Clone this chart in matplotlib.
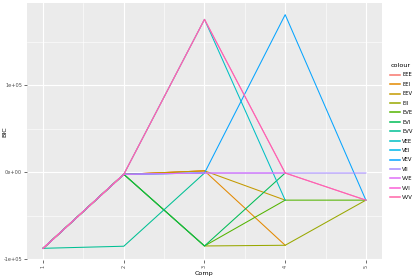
import numpy as np
import matplotlib.pyplot as plt

# BIC por numero de componentes
comp = [1, 2, 3, 4, 5]
nan = np.nan
models = ['EEE', 'EEI', 'EEV', 'EII', 'EVE', 'EVI', 'EVV',
          'VEE', 'VEI', 'VEV', 'VII', 'VVE', 'VVI', 'VVV']
bic = {
    'EEE': [-87400, -2300, 1700, nan, nan],
    'EEI': [-87400, -2300, 1700, -83900, nan],
    'EEV': [-87400, -2300, 1700, -32000, nan],
    'EII': [-87400, -2300, -84700, -83900, -32000],
    'EVE': [-87400, -2300, -84700, -32000, -32000],
    'EVI': [-87400, -2300, -84700, -800, nan],
    'EVV': [-87400, -85000, -800, nan, nan],
    'VEE': [-87400, -2300, 175900, -32000, nan],
    'VEI': [-87400, -2300, -800, nan, nan],
    'VEV': [-87400, -2300, -800, 181300, -32000],
    'VII': [-87400, -2300, -800, -800, -800],
    'VVE': [-87400, -2300, -800, -800, nan],
    'VVI': [-87400, -2300, 175900, -800, -32000],
    'VVV': [-87400, -2300, 175900, -800, -32000],
}
colores = ['#F8766D', '#E38900', '#C49A00', '#99A800', '#53B400', '#00BC56', '#00C094',
           '#00BFC4', '#00B6EB', '#06A4FF', '#A58AFF', '#DF70F8', '#FB61D7', '#FF66A8']
yticks = [-100000, 0, 100000]
ylabels = ['-1e+05', '0e+00', '1e+05']

fig = plt.figure(figsize=(4.15, 2.77), dpi=100)
ax = fig.add_axes([0.065, 0.0614, 0.8555, 0.9278])
ax.set_facecolor('#EBEBEB')

for m, c in zip(models, colores):
    ax.plot(comp, bic[m], color=c, lw=0.75, label=m)

ax.margins(x=0.05, y=0.05)
ax.set_xticks(comp)
ax.set_xticklabels([str(c) for c in comp], rotation=90)
ax.set_yticks(yticks)
ax.set_yticklabels(ylabels)
ax.set_xticks([1.5, 2.5, 3.5, 4.5], minor=True)
ax.set_yticks([-50000, 50000, 150000], minor=True)
ax.grid(which='major', color='white', lw=0.8)
ax.grid(which='minor', color='white', lw=0.4)
ax.set_axisbelow(True)
for s in ax.spines.values():
    s.set_visible(False)
ax.tick_params(which='major', length=2, width=0.5, color='#333333',
               labelsize=3.6, labelcolor='#4D4D4D', pad=1.5)
ax.tick_params(which='minor', length=0)
ax.set_xlabel('Comp', fontsize=4.6)
ax.set_ylabel('BIC', fontsize=4.6)
ax.xaxis.set_label_coords(0.5, -0.043)
ax.yaxis.set_label_coords(-0.054, 0.5)

leg = ax.legend(title='colour', loc='upper left', bbox_to_anchor=(0.935, 0.78),
                bbox_transform=fig.transFigure, frameon=False, fontsize=3.8,
                title_fontsize=4.6, handlelength=1.8, labelspacing=0.84,
                handletextpad=0.5, borderaxespad=0)
leg._legend_box.align = 'left'
for h in leg.get_lines():
    h.set_linewidth(1.1)

fig.savefig('out.png', dpi=100)
